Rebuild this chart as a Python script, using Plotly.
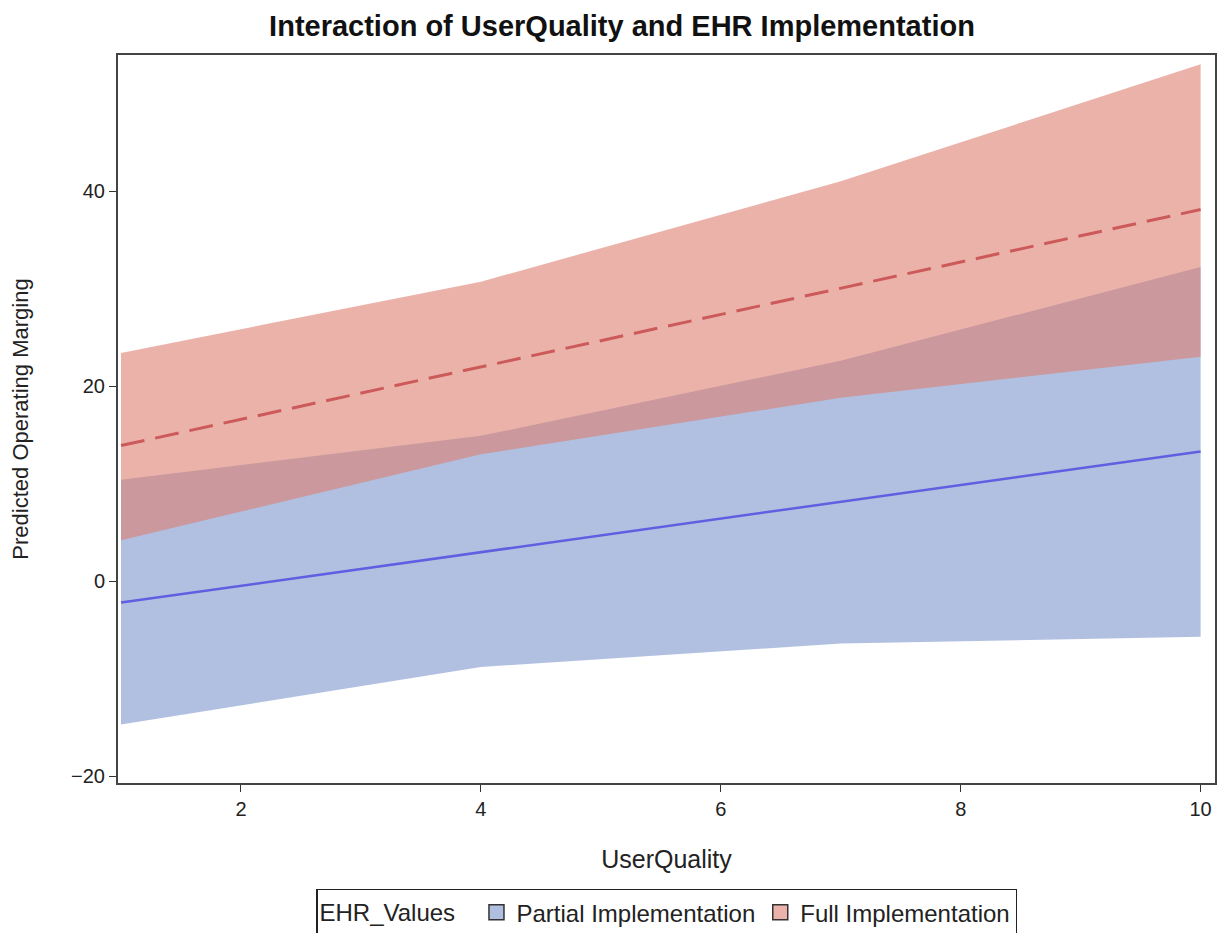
import plotly.graph_objects as go

# Data
user_quality = [1, 4, 7, 10]
partial_upper = [10.4, 14.9, 22.6, 32.2]
partial_lower = [-14.7, -8.8, -6.4, -5.7]
full_upper = [23.4, 30.7, 41.0, 53.0]
full_lower = [4.2, 13.0, 18.8, 23.0]
line_x = [1, 10]
partial_pred = [-2.2, 13.3]
full_pred = [13.9, 38.1]
x_ticks = [2, 4, 6, 8, 10]
y_ticks = [-20, 0, 20, 40]
series_names = ["Partial Implementation", "Full Implementation"]

FONT = "Liberation Sans, Arial, sans-serif"
blue_fill = "rgba(120,146,201,0.58)"
red_fill = "rgba(220,123,109,0.58)"
blue_swatch = "rgb(176,191,223)"
red_swatch = "rgb(234,178,170)"

fig = go.Figure()

# Partial implementation band
fig.add_trace(go.Scatter(x=user_quality, y=partial_upper, mode="lines",
                         line=dict(width=0), showlegend=False, hoverinfo="skip"))
fig.add_trace(go.Scatter(x=user_quality, y=partial_lower, mode="lines",
                         line=dict(width=0), fill="tonexty", fillcolor=blue_fill,
                         showlegend=False, hoverinfo="skip"))
# Full implementation band
fig.add_trace(go.Scatter(x=user_quality, y=full_upper, mode="lines",
                         line=dict(width=0), showlegend=False, hoverinfo="skip"))
fig.add_trace(go.Scatter(x=user_quality, y=full_lower, mode="lines",
                         line=dict(width=0), fill="tonexty", fillcolor=red_fill,
                         showlegend=False, hoverinfo="skip"))

# Predicted lines
fig.add_trace(go.Scatter(x=line_x, y=partial_pred, mode="lines",
                         line=dict(color="rgb(95,95,225)", width=2.5),
                         showlegend=False))
fig.add_trace(go.Scatter(x=line_x, y=full_pred, mode="lines",
                         line=dict(color="rgb(205,90,90)", width=3, dash="24px,11px"),
                         showlegend=False))

# Legend swatches
for name, col in zip(series_names, [blue_swatch, red_swatch]):
    fig.add_trace(go.Scatter(x=[None], y=[None], mode="markers", name=name,
                             marker=dict(symbol="square", size=15, color=col,
                                         line=dict(color="#333", width=1.5))))

fig.update_layout(
    width=1228, height=933,
    paper_bgcolor="white", plot_bgcolor="white",
    margin=dict(l=110, r=21, t=47, b=158),
    font=dict(family=FONT, size=20, color="#222"),
    title=dict(
        text="<b>Interaction of UserQuality and EHR Implementation</b>",
        x=0.5, xanchor="center", y=0.981, yanchor="middle",
        font=dict(size=29, color="#111"),
    ),
    xaxis=dict(
        range=[0.975, 10.12], tickvals=x_ticks, ticks="outside", ticklen=7,
        tickcolor="#333", showgrid=False, zeroline=False, automargin=False,
        showline=True, linecolor="#444", linewidth=2, mirror=True,
        tickfont=dict(size=20),
        title=dict(text="UserQuality", font=dict(size=25), standoff=31),
    ),
    yaxis=dict(
        range=[-20.7, 53.95], tickvals=y_ticks, ticks="outside", ticklen=7,
        tickcolor="#333", showgrid=False, zeroline=False, automargin=False,
        showline=True, linecolor="#444", linewidth=2, mirror=True,
        tickfont=dict(size=20),
        title=dict(text="Predicted Operating Marging", font=dict(size=22), standoff=37),
    ),
    legend=dict(
        orientation="h", xref="paper", x=0.5, xanchor="center",
        yref="container", y=0.056, yanchor="top",
        traceorder="normal",
        title=dict(text="EHR_Values  ", font=dict(size=24)),
        font=dict(size=24), bordercolor="#222", borderwidth=1.5,
        bgcolor="white", itemwidth=30,
    ),
)

fig.write_html("out.html")
